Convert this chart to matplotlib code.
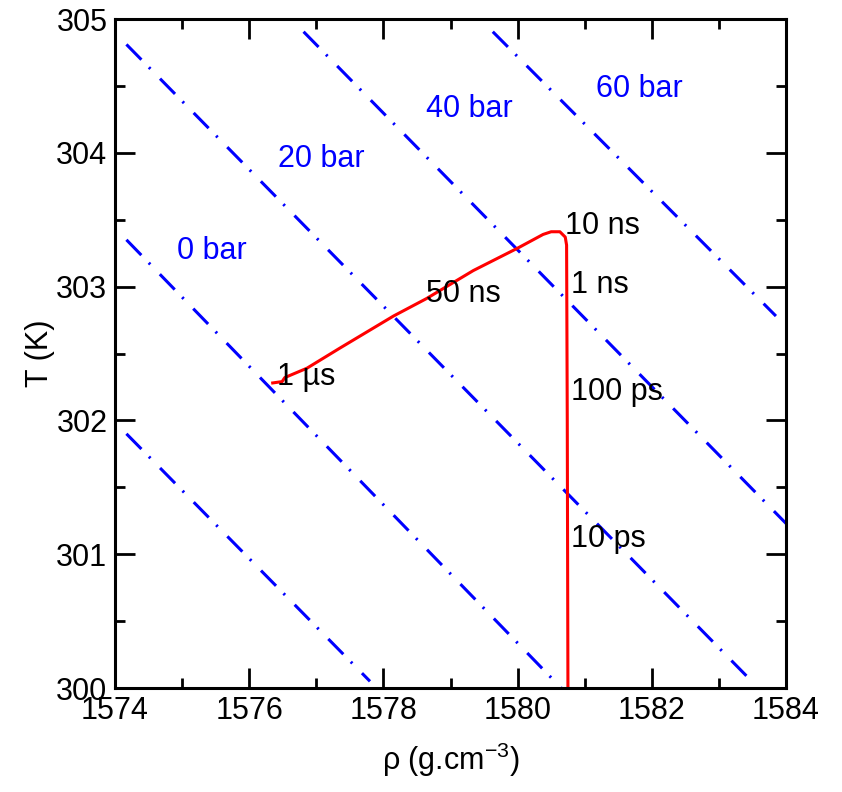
import matplotlib
matplotlib.use("Agg")
import matplotlib.pyplot as plt
from matplotlib.ticker import MultipleLocator

plt.rcParams['font.family'] = ['Liberation Sans', 'DejaVu Sans']
plt.rcParams['mathtext.fontset'] = 'custom'
plt.rcParams['mathtext.rm'] = 'Liberation Sans'
plt.rcParams['mathtext.default'] = 'regular'

# isobars (density, temperature end points)
isobar_rho = [
    [1574.17, 1577.80],
    [1574.17, 1580.65],
    [1574.17, 1583.49],
    [1576.81, 1584.00],
    [1579.63, 1583.85],
]
isobar_T = [
    [301.90, 300.05],
    [303.35, 300.00],
    [304.81, 300.05],
    [304.905, 301.23],
    [304.905, 302.78],
]
isobar_labels = ["0 bar", "20 bar", "40 bar", "60 bar"]
isobar_label_rho = [1574.92, 1576.43, 1578.64, 1581.17]
isobar_label_T = [303.21, 303.896, 304.27, 304.42]

# trajectory of the system
traj_rho = [1576.35, 1576.49, 1576.53, 1576.86, 1577.35, 1578.15, 1578.64,
            1579.34, 1580.01, 1580.38, 1580.50, 1580.63, 1580.71, 1580.73,
            1580.74, 1580.75]
traj_T = [302.28, 302.29, 302.32, 302.39, 302.54, 302.78, 302.91,
          303.12, 303.29, 303.39, 303.41, 303.41, 303.37, 303.31,
          302.00, 300.00]

time_labels = ["10 ns", "1 ns", "100 ps", "10 ps", "50 ns", "1 µs"]
time_label_rho = [1580.70, 1580.80, 1580.80, 1580.80, 1578.64, 1576.41]
time_label_T = [303.39, 302.955, 302.152, 301.056, 302.887, 302.265]

fig = plt.figure(figsize=(8.42, 7.92), dpi=100)
ax = fig.add_axes([0.1366, 0.1313, 0.7969, 0.8447])

for r, t in zip(isobar_rho, isobar_T):
    ax.plot(r, t, color='#0000ff', lw=2.2, dashes=(7, 3.5, 0.7, 4.5),
            solid_capstyle='butt', dash_capstyle='butt')

ax.plot(traj_rho, traj_T, color='#ff0000', lw=2.2)

for s, r, t in zip(isobar_labels, isobar_label_rho, isobar_label_T):
    ax.text(r, t, s, color='#0000ff', fontsize=22, ha='left', va='baseline')
for s, r, t in zip(time_labels, time_label_rho, time_label_T):
    ax.text(r, t, s, color='black', fontsize=22, ha='left', va='baseline')

ax.set_xlim(1574, 1584)
ax.set_ylim(300, 305)
ax.xaxis.set_major_locator(MultipleLocator(2))
ax.xaxis.set_minor_locator(MultipleLocator(1))
ax.yaxis.set_major_locator(MultipleLocator(1))
ax.yaxis.set_minor_locator(MultipleLocator(0.5))
ax.tick_params(which='both', direction='in', top=True, right=True, width=2, labelsize=22)
ax.tick_params(which='major', length=14.5)
ax.tick_params(which='minor', length=7.5)
ax.tick_params(axis='x', pad=6)
ax.tick_params(axis='y', pad=5.5)
for sp in ax.spines.values():
    sp.set_linewidth(2.2)

ax.set_xlabel(r'ρ (g.cm$^{-3}$)', fontsize=22, labelpad=10)
ax.set_ylabel('T (K)', fontsize=22, labelpad=1)

fig.savefig("out.png", dpi=100)
